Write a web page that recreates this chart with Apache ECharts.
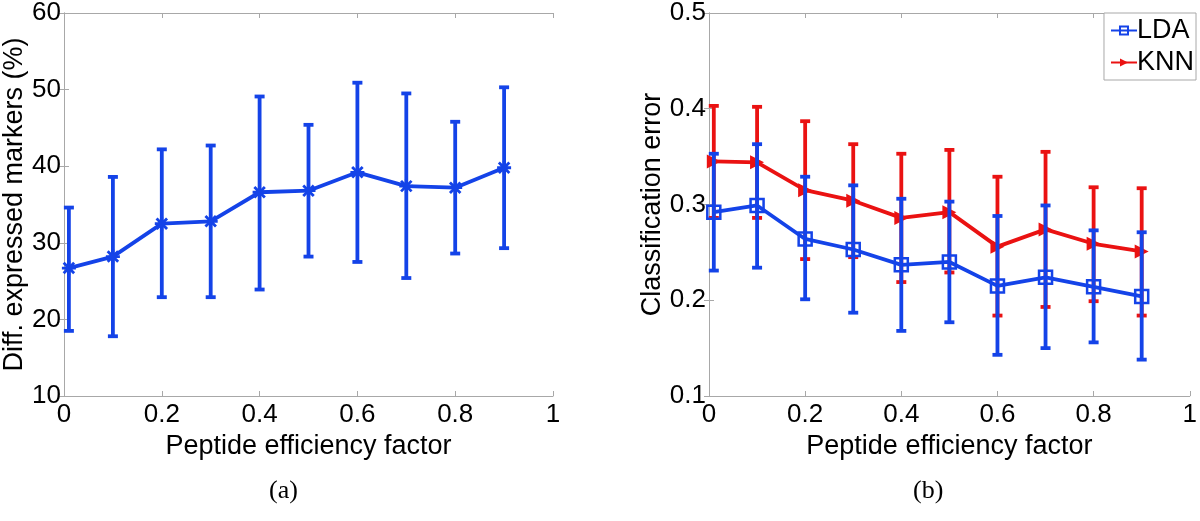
<!DOCTYPE html>
<html>
<head>
<meta charset="utf-8">
<script src="https://cdn.jsdelivr.net/npm/echarts@6/dist/echarts.min.js"></script>
<style>
html,body{margin:0;padding:0;background:#fff;}
#c{width:1200px;height:521px;}
</style>
</head>
<body>
<div id="c"></div>
<script>
// ---- data ----
const xVals = [0.01, 0.1, 0.2, 0.3, 0.4, 0.5, 0.6, 0.7, 0.8, 0.9];
const xTicks = [0, 0.2, 0.4, 0.6, 0.8, 1];

// (a) Diff. expressed markers (%)
const diffMean = [26.7, 28.2, 32.5, 32.8, 36.6, 36.8, 39.2, 37.4, 37.2, 39.8];
const diffLow  = [18.5, 17.8, 22.9, 22.9, 23.9, 28.2, 27.5, 25.4, 28.6, 29.3];
const diffHigh = [34.6, 38.6, 42.2, 42.7, 49.1, 45.4, 50.9, 49.5, 45.8, 50.3];

// (b) Classification error
const ldaMean = [0.292, 0.299, 0.264, 0.253, 0.237, 0.240, 0.215, 0.224, 0.214, 0.204];
const ldaLow  = [0.231, 0.234, 0.201, 0.187, 0.168, 0.177, 0.143, 0.150, 0.156, 0.138];
const ldaHigh = [0.353, 0.363, 0.329, 0.320, 0.306, 0.303, 0.288, 0.299, 0.273, 0.271];

const knnMean = [0.345, 0.344, 0.315, 0.304, 0.286, 0.292, 0.256, 0.274, 0.259, 0.251];
const knnLow  = [0.286, 0.286, 0.243, 0.245, 0.219, 0.229, 0.184, 0.193, 0.199, 0.184];
const knnHigh = [0.403, 0.402, 0.387, 0.363, 0.353, 0.357, 0.329, 0.355, 0.318, 0.317];

const leftYTicks = [10, 20, 30, 40, 50, 60];
const rightYTicks = [0.1, 0.2, 0.3, 0.4, 0.5];

// ---- styling ----
const BLUE = '#1443e8';
const RED = '#ea1212';
const AXIS = '#a8a8a8';
const FONT = '"Liberation Sans", Arial, Helvetica, sans-serif';
const TICK_FS = 26;
const NAME_FS = 27;

const chart = echarts.init(document.getElementById('c'), null, {renderer: 'canvas'});

function pairs(xs, ys) { return xs.map((x, i) => [x, ys[i]]); }
function triples(xs, lo, hi) { return xs.map((x, i) => [x, lo[i], hi[i]]); }

function errRender(color) {
  return function (params, api) {
    const x = api.value(0);
    const lo = api.coord([x, api.value(1)]);
    const hi = api.coord([x, api.value(2)]);
    const hw = 5;
    const style = {stroke: color, lineWidth: 3.8, fill: null};
    return {
      type: 'group',
      children: [
        {type: 'line', shape: {x1: lo[0], y1: lo[1], x2: hi[0], y2: hi[1]}, style: style},
        {type: 'line', shape: {x1: lo[0] - hw, y1: lo[1], x2: lo[0] + hw, y2: lo[1]}, style: style},
        {type: 'line', shape: {x1: hi[0] - hw, y1: hi[1], x2: hi[0] + hw, y2: hi[1]}, style: style}
      ]
    };
  };
}

function xAxisPair(gi) {
  const common = {
    type: 'value', min: xTicks[0], max: xTicks[xTicks.length - 1], interval: 0.2, gridIndex: gi,
    axisLine: {show: true, lineStyle: {color: AXIS, width: 1}},
    axisTick: {show: true, inside: true, length: 5, lineStyle: {color: AXIS}},
    splitLine: {show: false}
  };
  return [
    Object.assign({}, common, {
      position: 'bottom',
      axisLabel: {color: '#000', fontSize: TICK_FS, fontFamily: FONT, margin: 6,
        formatter: v => String(+v.toFixed(1))},
      name: 'Peptide efficiency factor', nameLocation: 'middle', nameGap: 26,
      nameTextStyle: {color: '#000', fontSize: NAME_FS, fontFamily: FONT, verticalAlign: 'top'}
    }),
    Object.assign({}, common, {position: 'top', axisLabel: {show: false}})
  ];
}

function yAxisPair(gi, ticks, interval, name, gap, fmt) {
  const common = {
    type: 'value', min: ticks[0], max: ticks[ticks.length - 1], interval: interval, gridIndex: gi,
    axisLine: {show: true, lineStyle: {color: AXIS, width: 1}},
    axisTick: {show: true, inside: true, length: 5, lineStyle: {color: AXIS}},
    splitLine: {show: false}
  };
  return [
    Object.assign({}, common, {
      position: 'left',
      axisLabel: {color: '#000', fontSize: TICK_FS, fontFamily: FONT, margin: 3, formatter: fmt},
      name: name, nameLocation: 'middle', nameGap: gap,
      nameTextStyle: {color: '#000', fontSize: NAME_FS, fontFamily: FONT}
    }),
    Object.assign({}, common, {position: 'right', axisLabel: {show: false}})
  ];
}

const asterisk = 'path://M0,-6L0,6M-6,0L6,0M-4.5,-4.5L4.5,4.5M-4.5,4.5L4.5,-4.5';
const triRight = 'path://M0,0L12,6L0,12Z';

const option = {
  animation: false,
  backgroundColor: '#fff',
  grid: [
    {left: 63, top: 10, width: 490, height: 386},
    {left: 709, top: 10, width: 489, height: 386}
  ],
  xAxis: [].concat(xAxisPair(0), xAxisPair(1)),
  yAxis: [].concat(
    yAxisPair(0, leftYTicks, 10, 'Diff. expressed markers (%)', 36, v => String(v)),
    yAxisPair(1, rightYTicks, 0.1, 'Classification error', 43, v => (+v).toFixed(1))
  ),
  legend: {
    data: ['LDA', 'KNN'],
    orient: 'vertical',
    right: 4, top: 13,
    backgroundColor: '#fff',
    borderColor: AXIS, borderWidth: 1, borderRadius: 0,
    padding: [4, 2, 4, 6],
    itemGap: 5,
    itemWidth: 26, itemHeight: 10,
    textStyle: {color: '#000', fontSize: NAME_FS, fontFamily: FONT, padding: [0, 0, 0, -5]}
  },
  graphic: [
    {type: 'text', left: 269, top: 478, style: {text: '(a)', fontSize: 26, fontFamily: '"Liberation Serif", "DejaVu Serif", serif', fill: '#000'}},
    {type: 'text', left: 913, top: 478, style: {text: '(b)', fontSize: 26, fontFamily: '"Liberation Serif", "DejaVu Serif", serif', fill: '#000'}}
  ],
  series: [
    // (a)
    {type: 'custom', name: 'diffErr', xAxisIndex: 0, yAxisIndex: 0,
      renderItem: errRender(BLUE), data: triples(xVals, diffLow, diffHigh), z: 2, silent: true},
    {type: 'line', name: 'diff', xAxisIndex: 0, yAxisIndex: 0, data: pairs(xVals, diffMean),
      symbol: asterisk, symbolSize: 14,
      lineStyle: {color: BLUE, width: 3.8},
      itemStyle: {color: BLUE, borderColor: BLUE, borderWidth: 2.8},
      z: 3},
    // (b) KNN
    {type: 'custom', name: 'knnErr', xAxisIndex: 2, yAxisIndex: 2,
      renderItem: errRender(RED), data: triples(xVals, knnLow, knnHigh), z: 2, silent: true},
    {type: 'line', name: 'KNN', xAxisIndex: 2, yAxisIndex: 2, data: pairs(xVals, knnMean),
      symbol: triRight, symbolSize: 14,
      lineStyle: {color: RED, width: 3.8},
      itemStyle: {color: RED, borderColor: RED, borderWidth: 0},
      z: 3},
    // (b) LDA
    {type: 'custom', name: 'ldaErr', xAxisIndex: 2, yAxisIndex: 2,
      renderItem: errRender(BLUE), data: triples(xVals, ldaLow, ldaHigh), z: 4, silent: true},
    {type: 'line', name: 'LDA', xAxisIndex: 2, yAxisIndex: 2, data: pairs(xVals, ldaMean),
      symbol: 'rect', symbolSize: 13,
      lineStyle: {color: BLUE, width: 3.8},
      itemStyle: {color: 'rgba(255,255,255,0)', borderColor: BLUE, borderWidth: 2.5},
      z: 5}
  ]
};

chart.setOption(option);
</script>
</body>
</html>
